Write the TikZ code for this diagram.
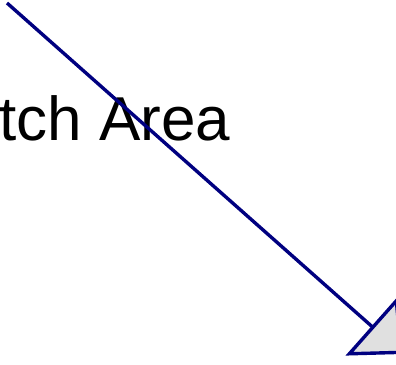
\documentclass[tikz,border=0pt]{standalone}
\usepackage{fontspec}
\setmainfont{Liberation Sans}
\usetikzlibrary{arrows.meta, positioning}
\definecolor{linenavy}{RGB}{0,0,128}
\definecolor{headgray}{RGB}{224,224,224}
\tikzset{
  arealabel/.style={inner sep=0pt, anchor=base west, font=\fontsize{62}{74}\selectfont},
  pointer/.style={draw=linenavy, line width=3.4pt,
    -{Triangle[length=42pt, width=78pt, fill=headgray, line width=3.4pt]}}
}
\begin{document}
\begin{tikzpicture}[x=1pt, y=-1pt]
  \useasboundingbox (0,0) rectangle (396,364);
  \node[arealabel] (label) at (-1,140) {tch Area};
  \coordinate (start) at (7,3);
  \coordinate (tip) at (403,354);
  \draw[pointer] (start) -- (tip);
\end{tikzpicture}
\end{document}
